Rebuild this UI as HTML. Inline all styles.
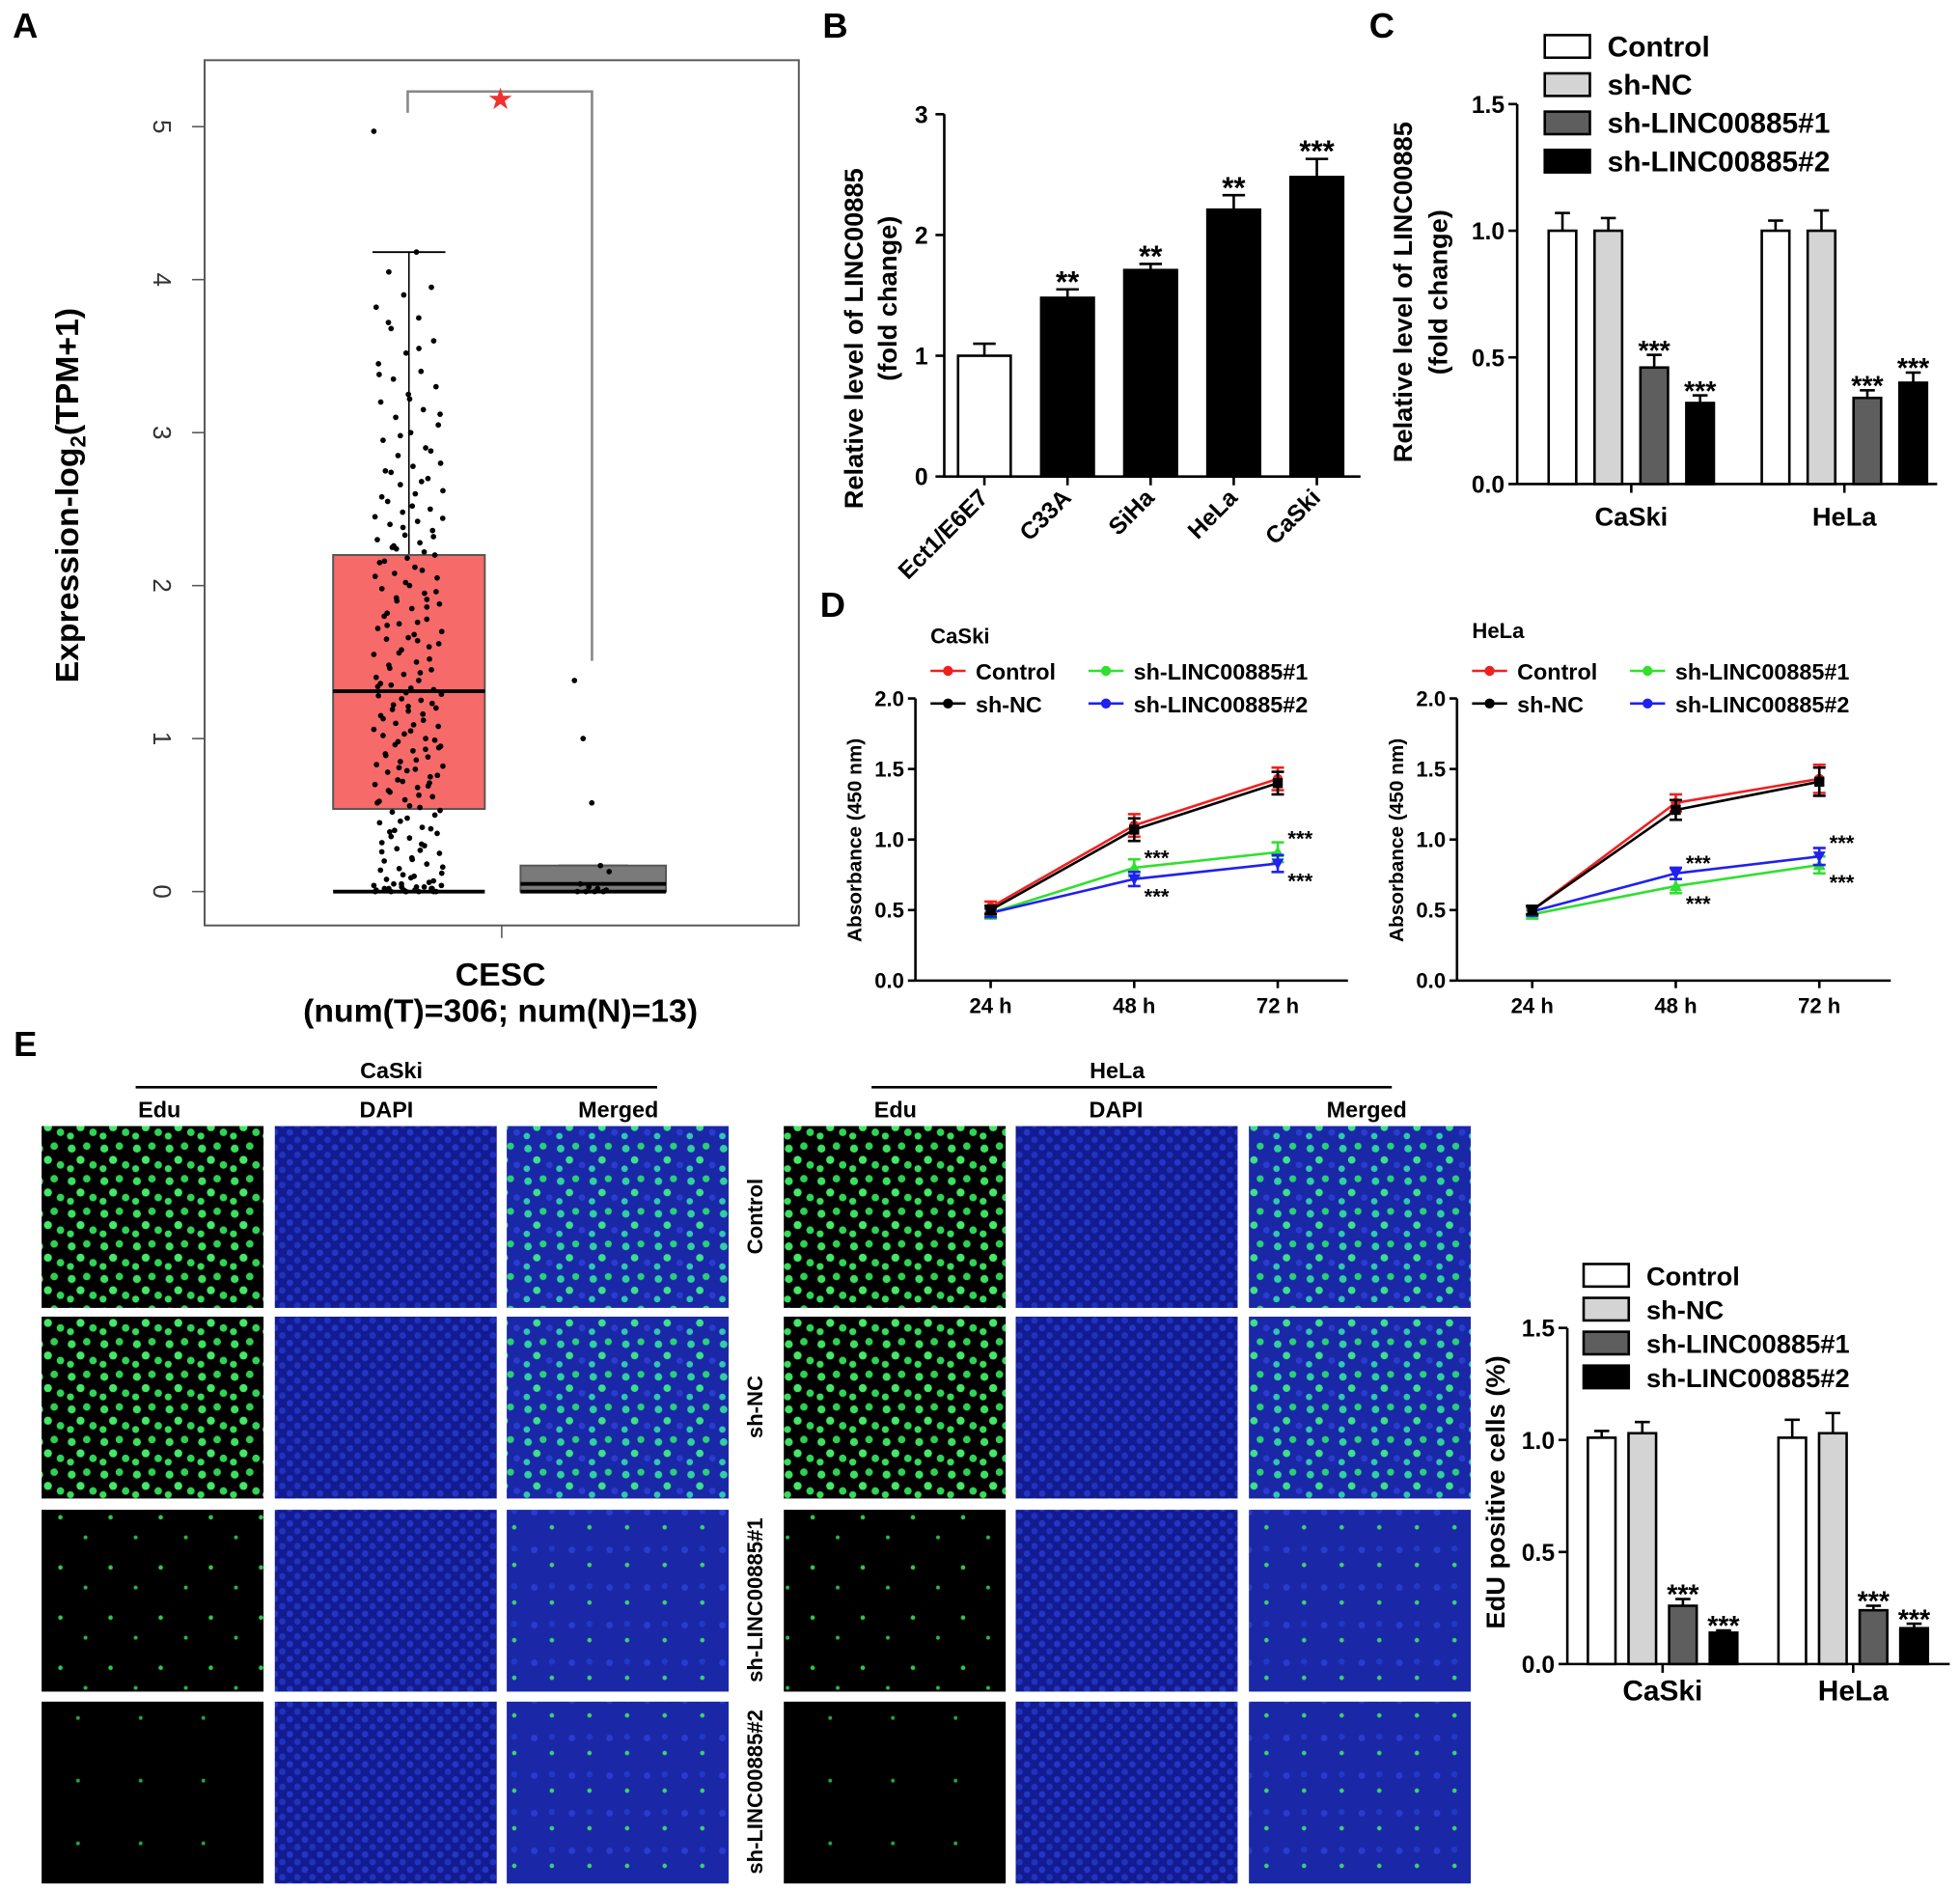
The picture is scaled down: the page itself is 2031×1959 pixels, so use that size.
<!DOCTYPE html>
<html><head><meta charset="utf-8">
<style>
html,body{margin:0;padding:0;background:#fff;}
svg{display:block;font-family:"Liberation Sans",Arial,sans-serif;}
</style></head>
<body>
<svg id="fig" width="2031" height="1959" viewBox="0 0 1563 1508" xmlns="http://www.w3.org/2000/svg">
<defs>
<pattern id="gDense" width="26" height="26" patternUnits="userSpaceOnUse">
<rect width="26" height="26" fill="#000"/>
<circle cx="5" cy="6" r="3.2" fill="#3de05e"/><circle cx="17" cy="4" r="3" fill="#2fd050"/>
<circle cx="12" cy="15" r="3.2" fill="#45e868"/><circle cx="22" cy="19" r="3" fill="#30d455"/>
<circle cx="4" cy="22" r="2.8" fill="#38dc5a"/></pattern>
<pattern id="gSparse" width="40" height="40" patternUnits="userSpaceOnUse">
<rect width="40" height="40" fill="#000"/>
<circle cx="8" cy="10" r="1.8" fill="#2fc84c"/><circle cx="28" cy="26" r="1.6" fill="#28b844"/></pattern>
<pattern id="gSparse2" width="50" height="50" patternUnits="userSpaceOnUse">
<rect width="50" height="50" fill="#000"/>
<circle cx="12" cy="20" r="1.5" fill="#24a83e"/></pattern>
<pattern id="blue" width="12" height="12" patternUnits="userSpaceOnUse">
<rect width="12" height="12" fill="#121c90"/>
<circle cx="3" cy="3" r="2.6" fill="#2436c8"/><circle cx="9" cy="9" r="2.6" fill="#2032c0"/></pattern>
<pattern id="mDense" width="26" height="26" patternUnits="userSpaceOnUse">
<rect width="26" height="26" fill="#1a28a8"/>
<circle cx="5" cy="6" r="3" fill="#30d0a0"/><circle cx="17" cy="4" r="2.8" fill="#2ad078"/>
<circle cx="12" cy="15" r="3" fill="#3ee08a"/><circle cx="22" cy="19" r="2.6" fill="#2a3cd0"/>
<circle cx="4" cy="22" r="2.6" fill="#30c8b0"/></pattern>
<pattern id="mSparse" width="30" height="30" patternUnits="userSpaceOnUse">
<rect width="30" height="30" fill="#1a28a8"/>
<circle cx="6" cy="6" r="2.6" fill="#2a3cd0"/><circle cx="20" cy="18" r="1.8" fill="#40d070"/>
<circle cx="20" cy="5" r="2.4" fill="#2438c8"/></pattern>
</defs>
<g id="root"></g>
</svg>
<script>
const NS="http://www.w3.org/2000/svg";
const root=document.getElementById('root');
function el(tag,attrs,parent,text){const e=document.createElementNS(NS,tag);for(const k in attrs)e.setAttribute(k,attrs[k]);if(text!==undefined)e.textContent=text;(parent||root).appendChild(e);return e;}
function txt(x,y,s,size,opts,parent){opts=opts||{};const t=el('text',{x:x,y:y,'font-size':size,'font-weight':opts.w||'bold','text-anchor':opts.a||'middle',fill:opts.fill||'#000'},parent,s);if(opts.rot!==undefined)t.setAttribute('transform','rotate('+opts.rot+' '+x+' '+y+')');return t;}

// ---------------- Panel A data ----------------
const aTumorVals=[4.97,4.18,4.05,3.95,3.9,3.82,3.75,3.68,3.6,3.52,3.45,3.4,3.35,3.3,3.25,3.2,3.15,3.1,3.05,3.0,2.95,2.9,2.85,2.8,2.78,2.75,2.7,2.66,2.62,2.6,2.55,2.5,2.48,2.45,2.42,2.4,2.36,2.33,2.3,2.28,2.25,2.2,2.18,2.15,2.1,2.08,2.05,2.0,1.98,1.95,1.9,1.88,1.85,1.8,1.78,1.75,1.7,1.68,1.65,1.6,1.58,1.55,1.5,1.48,1.45,1.42,1.4,1.38,1.35,1.32,1.3,1.28,1.25,1.22,1.2,1.18,1.15,1.12,1.1,1.08,1.05,1.02,1.0,0.98,0.95,0.92,0.9,0.88,0.85,0.82,0.8,0.78,0.75,0.72,0.7,0.68,0.65,0.62,0.6,0.58,0.55,0.52,0.5,0.48,0.45,0.42,0.4,0.38,0.35,0.32,0.3,0.28,0.25,0.22,0.2,0.18,0.15,0.12,0.1,0.08,0.06,0.05,0.04,0.03,0.02,0.02,0.01,0.01,0.0,0.0,0.0,0.0];
const aTumorVals2=[3.72,3.55,3.38,3.22,3.12,2.98,2.88,2.74,2.68,2.58,2.52,2.44,2.38,2.32,2.26,2.22,2.16,2.12,2.06,2.02,1.96,1.92,1.86,1.82,1.76,1.72,1.66,1.62,1.56,1.52,1.46,1.43,1.36,1.33,1.29,1.26,1.23,1.19,1.16,1.13,1.09,1.06,1.03,0.99,0.96,0.93,0.89,0.86,0.83,0.79,0.76,0.73,0.69,0.66,0.63,0.59,0.56,0.53,0.46,0.41,0.36,0.31,0.26,0.21,0.16,0.11,0.07,0.05,0.03,0.02,0.01,0.0,0.0,0.0,2.24,1.91,1.74,1.64,1.34,1.21,0.94,0.81,0.71,0.39,0.27,0.14,0.09,0.04,0.03,0.02];
const aNormalVals=[1.38,1.0,0.58,0.17,0.13,0.05,0.03,0.02,0.01,0.0,0.0,0.0,0.0];
const aTumorBox={q1:0.54,med:1.31,q3:2.2,whiskTop:4.18,whiskBot:0};
const aNormalBox={q1:0,med:0.05,q3:0.17,whiskTop:0.17,whiskBot:0};
const aTicks=[0,1,2,3,4,5];
const yA=v=>711-v*122;
el('rect',{x:163,y:48,width:474,height:690,fill:'none',stroke:'#555','stroke-width':1.5,});
aTicks.forEach(t=>{el('line',{x1:153,y1:yA(t),x2:163,y2:yA(t),stroke:'#555','stroke-width':1.2});
 const lbl=txt(122,yA(t),String(t),20,{w:'normal',rot:90,fill:'#333'});});
el('line',{x1:400,y1:738,x2:400,y2:748,stroke:'#555','stroke-width':1.2});
function boxp(cx,w,b,fill,name){const g=el('g',{});
 el('line',{x1:cx,y1:yA(b.whiskTop),x2:cx,y2:yA(b.q3),stroke:'#000','stroke-width':1.2},g);
 el('line',{x1:cx-w*0.24,y1:yA(b.whiskTop),x2:cx+w*0.24,y2:yA(b.whiskTop),stroke:'#000','stroke-width':1.5},g);
 el('rect',{x:cx-w/2,y:yA(b.q3),width:w,height:Math.max(1,yA(b.q1)-yA(b.q3)),fill:fill,stroke:'#555','stroke-width':1.5},g);
 el('line',{x1:cx-w/2,y1:yA(b.med),x2:cx+w/2,y2:yA(b.med),stroke:'#000','stroke-width':3},g);
 el('line',{x1:cx-w/2,y1:yA(b.whiskBot),x2:cx+w/2,y2:yA(b.whiskBot),stroke:'#000','stroke-width':3},g);return g;}
const gT=boxp(326,121,aTumorBox,'#f76a6a','box-tumor');
aTumorVals.forEach((v,i)=>{const j=((i*37)%61)/61-0.5;el('circle',{cx:326+j*56,cy:yA(v),r:2.2,fill:'#000'},gT);});
aTumorVals2.forEach((v,i)=>{const j=((i*23+11)%53)/53-0.5;el('circle',{cx:326+j*56,cy:yA(v),r:2.2,fill:'#000'},gT);});
const gN=boxp(473,116,aNormalBox,'#7a7a7a','box-normal');
aNormalVals.forEach((v,i)=>{const j=((i*29)%13)/13-0.5;el('circle',{cx:473+j*30,cy:yA(v),r:2.2,fill:'#000'},gN);});
el('polyline',{points:'325,90 325,73 472,73 472,527',fill:'none',stroke:'#888','stroke-width':2,});
txt(399,87,'★',24,{fill:'#f03030',w:'normal'});
let t=txt(399,786,'CESC',26);
t=txt(399,815,'(num(T)=306; num(N)=13)',26);
t=el('text',{x:62,y:395,'font-size':26,'font-weight':'bold','text-anchor':'middle',transform:'rotate(-90 62 395)'});

t.innerHTML='Expression-log<tspan font-size="17" dy="6">2</tspan><tspan dy="-6">(TPM+1)</tspan>';

// panel letters
[['A',20,30],['B',666,30],['C',1102,30],['D',664,492],['E',20,842]].forEach(p=>{const l=txt(p[1],p[2],p[0],28,{});});

// ---------------- Panel B ----------------
const bCats=['Ect1/E6E7','C33A','SiHa','HeLa','CaSki'];
const bVals=[1.0,1.48,1.71,2.21,2.48];
const bErr=[0.1,0.07,0.05,0.12,0.15];
const bStars=['','**','**','**','***'];
const bTicks=[0,1,2,3];
const yB=v=>380-v*96.3, xB=i=>785+i*66.3;
el('line',{x1:753,y1:91,x2:753,y2:380,stroke:'#000','stroke-width':2});
el('line',{x1:753,y1:380,x2:1085,y2:380,stroke:'#000','stroke-width':2});
bTicks.forEach(v=>{el('line',{x1:746,y1:yB(v),x2:753,y2:yB(v),stroke:'#000','stroke-width':2});txt(740,yB(v)+7,String(v),19,{a:'end'});});
bCats.forEach((c,i)=>{const x=xB(i),y=yB(bVals[i]);
 el('line',{x1:x,y1:yB(bVals[i]+bErr[i]),x2:x,y2:y,stroke:'#000','stroke-width':2});
 el('line',{x1:x-9,y1:yB(bVals[i]+bErr[i]),x2:x+9,y2:yB(bVals[i]+bErr[i]),stroke:'#000','stroke-width':2});
 const r=el('rect',{x:x-21,y:y,width:42,height:380-y,fill:i?'#000':'#fff',stroke:'#000','stroke-width':2});
 
 el('line',{x1:x,y1:380,x2:x,y2:387,stroke:'#000','stroke-width':2});
 if(bStars[i])txt(x,yB(bVals[i]+bErr[i])+2,bStars[i],24);
 txt(x+4,398,c,19,{a:'end',rot:-45});});
txt(688,270,'Relative level of LINC00885',21,{rot:-90});
txt(715,238,'(fold change)',21,{rot:-90});

// ---------------- Panel C ----------------
const cGroups=['CaSki','HeLa'];
const cSeries=['Control','sh-NC','sh-LINC00885#1','sh-LINC00885#2'];
const cVals=[[1.0,1.0],[1.0,1.0],[0.46,0.34],[0.32,0.4]];
const cErr=[[0.07,0.04],[0.05,0.08],[0.05,0.03],[0.03,0.04]];
const cStars=[['',''],['',''],['***','***'],['***','***']];
const cTicks=[0,0.5,1.0,1.5];
const fills=['#fff','#d4d4d4','#5e5e5e','#000'];
function groupedBar(o){
 const {yf,ax,x0,x1,y0,ytop,groupX,vals,err,stars,ticks,name}=o;
 el('line',{x1:ax,y1:ytop,x2:ax,y2:y0,stroke:'#000','stroke-width':2});
 el('line',{x1:ax,y1:y0,x2:x1,y2:y0,stroke:'#000','stroke-width':2});
 ticks.forEach(v=>{el('line',{x1:ax-7,y1:yf(v),x2:ax,y2:yf(v),stroke:'#000','stroke-width':2});txt(ax-10,yf(v)+7,v.toFixed(1),19,{a:'end'});});
 groupX.forEach((gx,g)=>{ el('line',{x1:gx,y1:y0,x2:gx,y2:y0+7,stroke:'#000','stroke-width':2});
  for(let s=0;s<4;s++){const x=gx+(s-1.5)*o.step,v=vals[s][g],e=err[s][g];
   el('line',{x1:x,y1:yf(v+e),x2:x,y2:yf(v),stroke:'#000','stroke-width':2});
   el('line',{x1:x-6,y1:yf(v+e),x2:x+6,y2:yf(v+e),stroke:'#000','stroke-width':2});
   const r=el('rect',{x:x-11,y:yf(v),width:22,height:y0-yf(v),fill:fills[s],stroke:'#000','stroke-width':2});
   
   if(stars[s][g])txt(x,yf(v+e)+4,stars[s][g],22);}
 });}
const yC=v=>386-v*202;
groupedBar({yf:yC,ax:1210,x1:1545,y0:386,ytop:83,groupX:[1301,1471],step:36.6,vals:cVals,err:cErr,stars:cStars,ticks:cTicks,name:'c'});
cGroups.forEach((g,i)=>txt([1301,1471][i],419,g,21));
function legendBars(x,y0,dy,sz){cSeries.forEach((s,i)=>{const g=el('g',{});
 el('rect',{x:x,y:y0+i*dy-9,width:36,height:18,fill:fills[i],stroke:'#000','stroke-width':2},g);txt(x+50,y0+i*dy+8,s,sz,{a:'start'},g);});}
legendBars(1232,37,30.5,23);
txt(1126,233,'Relative level of LINC00885',21,{rot:-90});
txt(1154,233,'(fold change)',21,{rot:-90});

// ---------------- Panel D ----------------
const dTimes=['24 h','48 h','72 h'];
const dSeriesNames=['Control','sh-NC','sh-LINC00885#1','sh-LINC00885#2'];
const dColors=['#f02020','#000','#30e030','#2020f0'];
const dCaSki=[[0.52,1.1,1.43],[0.5,1.07,1.4],[0.48,0.8,0.91],[0.48,0.72,0.83]];
const dCaSkiErr=[[0.04,0.08,0.08],[0.03,0.08,0.08],[0.04,0.06,0.07],[0.03,0.05,0.06]];
const dHeLa=[[0.5,1.26,1.43],[0.5,1.21,1.41],[0.47,0.67,0.82],[0.49,0.76,0.88]];
const dHeLaErr=[[0.03,0.06,0.1],[0.03,0.07,0.1],[0.03,0.05,0.06],[0.03,0.04,0.06]];
const dTicks=[0,0.5,1.0,1.5,2.0];
function lineChart(o){
 const yf=v=>782-v*112.5, xf=i=>o.x24+i*114.5;
 const ax=o.ax;
 el('line',{x1:ax,y1:557,x2:ax,y2:782,stroke:'#000','stroke-width':2});
 el('line',{x1:ax,y1:782,x2:o.xEnd,y2:782,stroke:'#000','stroke-width':2});
 dTicks.forEach(v=>{el('line',{x1:ax-6,y1:yf(v),x2:ax,y2:yf(v),stroke:'#000','stroke-width':2});txt(ax-9,yf(v)+6,v.toFixed(1),17,{a:'end'});});
 dTimes.forEach((tm,i)=>{el('line',{x1:xf(i),y1:782,x2:xf(i),y2:788,stroke:'#000','stroke-width':2});txt(xf(i),808,tm,17);});
 txt(ax-43,670,'Absorbance (450 nm)',16,{rot:-90});
 txt(o.ax+12,o.titleY,o.title,17,{a:'start'});
 const order=[2,3,0,1];
 order.forEach(s=>{const g=el('g',{});
  el('polyline',{points:o.vals[s].map((v,i)=>xf(i)+','+yf(v)).join(' '),fill:'none',stroke:dColors[s],'stroke-width':2},g);
  o.vals[s].forEach((v,i)=>{const e=o.err[s][i];el('line',{x1:xf(i),y1:yf(v-e),x2:xf(i),y2:yf(v+e),stroke:dColors[s],'stroke-width':2},g);
   el('line',{x1:xf(i)-5,y1:yf(v+e),x2:xf(i)+5,y2:yf(v+e),stroke:dColors[s],'stroke-width':2},g);
   el('line',{x1:xf(i)-5,y1:yf(v-e),x2:xf(i)+5,y2:yf(v-e),stroke:dColors[s],'stroke-width':2},g);
   if(s===0)el('circle',{cx:xf(i),cy:yf(v),r:4,fill:dColors[s]},g);
   else if(s===1)el('rect',{x:xf(i)-4,y:yf(v)-4,width:8,height:8,fill:'#000'},g);
   else if(s===2)el('polygon',{points:`${xf(i)},${yf(v)-5} ${xf(i)-5},${yf(v)+4} ${xf(i)+5},${yf(v)+4}`,fill:dColors[s]},g);
   else el('polygon',{points:`${xf(i)},${yf(v)+5} ${xf(i)-5},${yf(v)-4} ${xf(i)+5},${yf(v)-4}`,fill:dColors[s]},g);});});
 o.stars.forEach(st=>txt(xf(st[0])+8,yf(o.vals[st[1]][st[0]])+st[2],'***',17,{a:'start'}));
 dSeriesNames.forEach((n,s)=>{const lx=o.ax+12+(s>1?126:0),ly=(s%2)?561:535;const g=el('g',{});
  
  el('line',{x1:lx,y1:ly,x2:lx+28,y2:ly,stroke:dColors[s],'stroke-width':2},g);
  el('circle',{cx:lx+14,cy:ly,r:4,fill:dColors[s]},g);
  txt(lx+36,ly+7,n,18,{a:'start'},g);});
}
lineChart({ax:730,x24:790,xEnd:1075,title:'CaSki',titleY:513,vals:dCaSki,err:dCaSkiErr,stars:[[1,2,-2],[1,3,20],[2,2,-5],[2,3,20]]});
lineChart({ax:1162,x24:1222,xEnd:1508,title:'HeLa',titleY:509,vals:dHeLa,err:dHeLaErr,stars:[[1,3,-2],[1,2,20],[2,3,-5],[2,2,20]]});

// ---------------- Panel E images ----------------
const eRows=['Control','sh-NC','sh-LINC00885#1','sh-LINC00885#2'];
const colX=[[33,219,404],[625,810,996]], rowY=[898,1050,1204,1357];
const edu=['gDense','gDense','gSparse','gSparse2'], mer=['mDense','mDense','mSparse','mSparse'];
colX.forEach((cols,ci)=>{rowY.forEach((ry,ri)=>{
 [edu[ri],'blue',mer[ri]].forEach((p,k)=>{const r=el('rect',{x:cols[k],y:ry,width:177,height:145,fill:'url(#'+p+')'});
 });});});
eRows.forEach((n,i)=>txt(608,rowY[i]+72,n,17,{rot:-90}));
[[108,524,312,'CaSki'],[695,1110,891,'HeLa']].forEach((h,i)=>{el('line',{x1:h[0],y1:867,x2:h[1],y2:867,stroke:'#000','stroke-width':2});txt(h[2],860,h[3],18);
 ['Edu','DAPI','Merged'].forEach((c,k)=>txt([[127,308,493],[714,890,1090]][i][k],891,c,18));});

// ---------------- Panel E bar chart ----------------
const eVals=[[1.01,1.01],[1.03,1.03],[0.26,0.24],[0.14,0.16]];
const eErr=[[0.03,0.08],[0.05,0.09],[0.03,0.02],[0.01,0.02]];
const eStars=[['',''],['',''],['***','***'],['***','***']];
const yE=v=>1327-v*178.7;
groupedBar({yf:yE,ax:1250,x1:1555,y0:1327,ytop:1059,groupX:[1326,1478],step:32.4,vals:eVals,err:eErr,stars:eStars,ticks:cTicks,name:'e'});
cGroups.forEach((g,i)=>txt([1326,1478][i],1356,g,23));
legendBars(1263,1017,27,21);
txt(1200,1190,'EdU positive cells (%)',21,{rot:-90});
</script>
</body></html>
